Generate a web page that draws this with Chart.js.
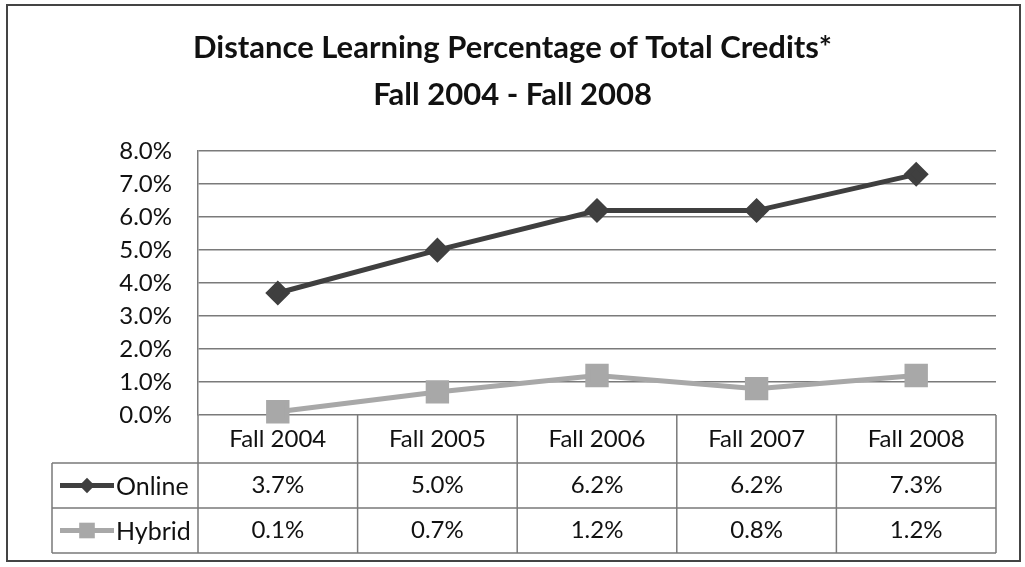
<!DOCTYPE html>
<html>
<head>
<meta charset="utf-8">
<script src="https://cdn.jsdelivr.net/npm/chart.js@4.4.0/dist/chart.umd.min.js"></script>
<style>
  html, body { margin: 0; background: #fff; }
  #wrap { width: 1025px; height: 567px; }
</style>
</head>
<body>
<div id="wrap"><canvas id="c"></canvas></div>
<script>
"use strict";

const TITLE = ["Distance Learning Percentage of Total Credits*", "Fall 2004 - Fall 2008"];
const PERIODS = ["Fall 2004", "Fall 2005", "Fall 2006", "Fall 2007", "Fall 2008"];
const ONLINE = [3.7, 5.0, 6.2, 6.2, 7.3];
const HYBRID = [0.1, 0.7, 1.2, 0.8, 1.2];
const SERIES = ["Online", "Hybrid"];

const DARK = "#3f3f3f";
const LIGHT = "#a8a8a8";
const GRID = "#7a7a7a";
const FONT = 'Lato, "Open Sans", Arial, sans-serif';

const pct = v => v.toFixed(1) + "%";

/* ── data table under the plot, drawn from the same arrays ──── */
const tablePlugin = {
  id: "dataTable",
  afterDraw(chart) {
    const ctx = chart.ctx;
    const a = chart.chartArea;
    const x = chart.scales.x;
    const rows = [a.bottom, a.bottom + 48, a.bottom + 93, a.bottom + 138];
    const legLeft = 52;
    const n = PERIODS.length;
    const bounds = [a.left];
    for (let i = 0; i < n - 1; i++) bounds.push((x.getPixelForValue(i) + x.getPixelForValue(i + 1)) / 2);
    bounds.push(a.right);

    ctx.save();
    ctx.strokeStyle = GRID;
    ctx.lineWidth = 1.5;
    ctx.beginPath();
    // horizontal rules
    for (let r = 1; r < rows.length; r++) { ctx.moveTo(legLeft, rows[r]); ctx.lineTo(a.right, rows[r]); }
    // verticals
    ctx.moveTo(legLeft, rows[1]); ctx.lineTo(legLeft, rows[3]);
    ctx.moveTo(a.left, rows[0]); ctx.lineTo(a.left, rows[3]);
    for (let i = 1; i < bounds.length; i++) { ctx.moveTo(bounds[i], rows[0]); ctx.lineTo(bounds[i], rows[3]); }
    ctx.stroke();

    ctx.fillStyle = "#111";
    ctx.font = `24px ${FONT}`;
    ctx.textAlign = "center";
    ctx.textBaseline = "middle";
    for (let i = 0; i < n; i++) {
      const cx = x.getPixelForValue(i);
      ctx.fillText(PERIODS[i], cx, (rows[0] + rows[1]) / 2);
      ctx.fillText(pct(ONLINE[i]), cx, (rows[1] + rows[2]) / 2);
      ctx.fillText(pct(HYBRID[i]), cx, (rows[2] + rows[3]) / 2);
    }

    // legend keys
    ctx.font = `25px ${FONT}`;
    chart.data.datasets.forEach((ds, k) => {
      const cy = (rows[k + 1] + rows[k + 2]) / 2;
      ctx.strokeStyle = ds.borderColor;
      ctx.lineWidth = 5;
      ctx.beginPath(); ctx.moveTo(60, cy); ctx.lineTo(114, cy); ctx.stroke();
      ctx.fillStyle = ds.pointBackgroundColor;
      Chart.helpers.drawPoint(ctx, { pointStyle: ds.pointStyle, rotation: 0, radius: ds.pointRadius * 0.85, borderWidth: 0 }, 87, cy);
      ctx.fillStyle = "#111";
      ctx.textAlign = "left";
      ctx.fillText(ds.label, 116, cy + 1);
    });

    // outer frame
    ctx.strokeStyle = "#444";
    ctx.lineWidth = 2;
    ctx.strokeRect(7, 5, 1013, 556);
    ctx.restore();
  },
};

new Chart(document.getElementById("c"), {
  type: "line",
  data: {
    labels: PERIODS,
    datasets: [
      { label: SERIES[0], data: ONLINE, borderColor: DARK, backgroundColor: DARK,
        pointBackgroundColor: DARK, pointBorderColor: DARK, pointStyle: "rectRot",
        pointRadius: 9, borderWidth: 5, clip: false },
      { label: SERIES[1], data: HYBRID, borderColor: LIGHT, backgroundColor: LIGHT,
        pointBackgroundColor: LIGHT, pointBorderColor: LIGHT, pointStyle: "rect",
        pointRadius: 13, borderWidth: 5, clip: false },
    ],
  },
  options: {
    responsive: true,
    maintainAspectRatio: false,
    animation: false,
    layout: { padding: { left: 29, right: 29, top: 0, bottom: 152 } },
    scales: {
      x: { display: false, offset: true },
      y: {
        min: 0, max: 8,
        ticks: { stepSize: 1, padding: 26, color: "#111", font: { family: FONT, size: 24 }, callback: v => pct(v) },
        grid: { color: GRID, lineWidth: 1.5, drawTicks: false },
        border: { display: true, color: GRID, width: 1.5 },
        afterFit: s => { s.width = 169; },
      },
    },
    plugins: {
      legend: { display: false },
      tooltip: { enabled: false },
      title: {
        display: true, text: TITLE, color: "#111",
        font: { family: FONT, size: 31, weight: "bold", lineHeight: 1.52 },
        padding: { top: 24, bottom: 33 },
      },
    },
  },
  plugins: [tablePlugin],
});
</script>
</body>
</html>
